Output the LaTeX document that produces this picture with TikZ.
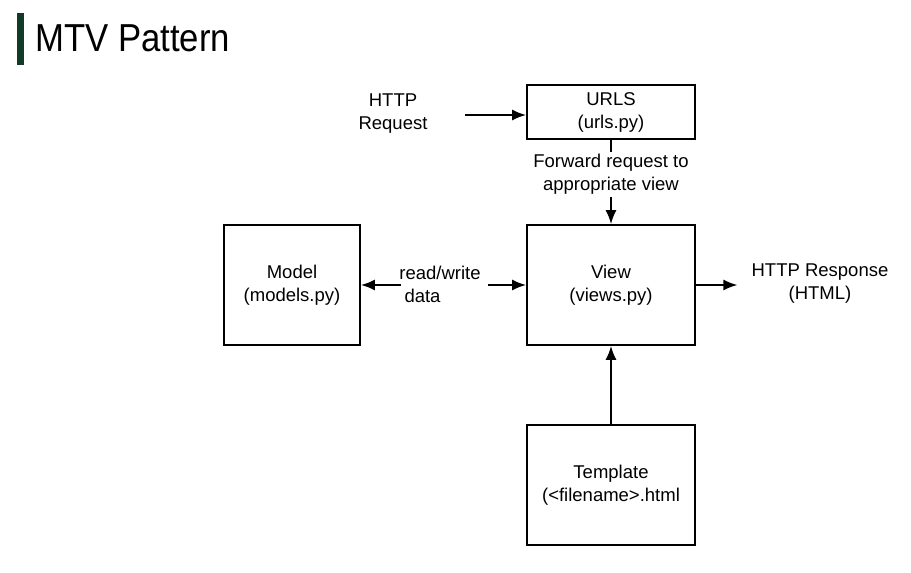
\documentclass[tikz,border=0pt]{standalone}
\usepackage{fontspec}
\setmainfont{Liberation Sans}
\newfontfamily\titlefont[FakeStretch=0.89]{Liberation Sans}
\usetikzlibrary{arrows.meta}
\definecolor{bargreen}{HTML}{123B27}
\begin{document}
\begin{tikzpicture}[x=1pt,y=-1pt,
  box/.style={draw=black,line width=1.8pt,inner sep=0pt,align=center,font=\fontsize{18.5}{23}\selectfont},
  lbl/.style={inner sep=0pt,align=center,font=\fontsize{18.5}{23}\selectfont},
  arr/.style={line width=1.8pt,-{Latex[length=14pt,width=11pt]}},
  ln/.style={line width=1.8pt}]
\useasboundingbox[fill=white] (0,0) rectangle (911,573);
\fill[bargreen] (17,13) rectangle (24,65);
\node[anchor=base west,inner sep=0pt,font=\titlefont\fontsize{39}{44}\selectfont] (title) at (35,51) {MTV Pattern};
% boxes
\node[box,minimum width=168pt,minimum height=54pt] (urls) at (611,112) {URLS\\(urls.py)};
\node[box,minimum width=168pt,minimum height=120pt] (view) at (611,285) {View\\(views.py)};
\node[box,minimum width=136pt,minimum height=120pt] (model) at (292,285) {Model\\(models.py)};
\node[box,minimum width=168pt,minimum height=120pt] (tmpl) at (611,485) {Template\\(<filename>.html};
% labels
\node[lbl] (req) at (393,114) {HTTP\\Request};
\node[lbl] (fwd) at (611,174) {Forward request to\\appropriate view};
\node[lbl,align=left] (rw) at (440,284) {read/write\\\ data};
\node[lbl] (resp) at (820,284) {HTTP Response\\(HTML)};
% connectors
\coordinate (reqend) at (465,115);
\draw[arr] (reqend) -- (urls.west |- reqend);
\draw[ln] (urls.south) -- ([yshift=2pt]fwd.north);
\draw[arr] ([yshift=-3pt]fwd.south) -- (view.north);
\draw[arr] ([xshift=2pt]rw.west |- model.east) -- (model.east);
\draw[arr] ([xshift=7pt]rw.east |- view.west) -- (view.west);
\draw[arr] (view.east) -- ([xshift=-14pt]resp.west |- view.east);
\draw[arr] (tmpl.north) -- (view.south);
\end{tikzpicture}
\end{document}
